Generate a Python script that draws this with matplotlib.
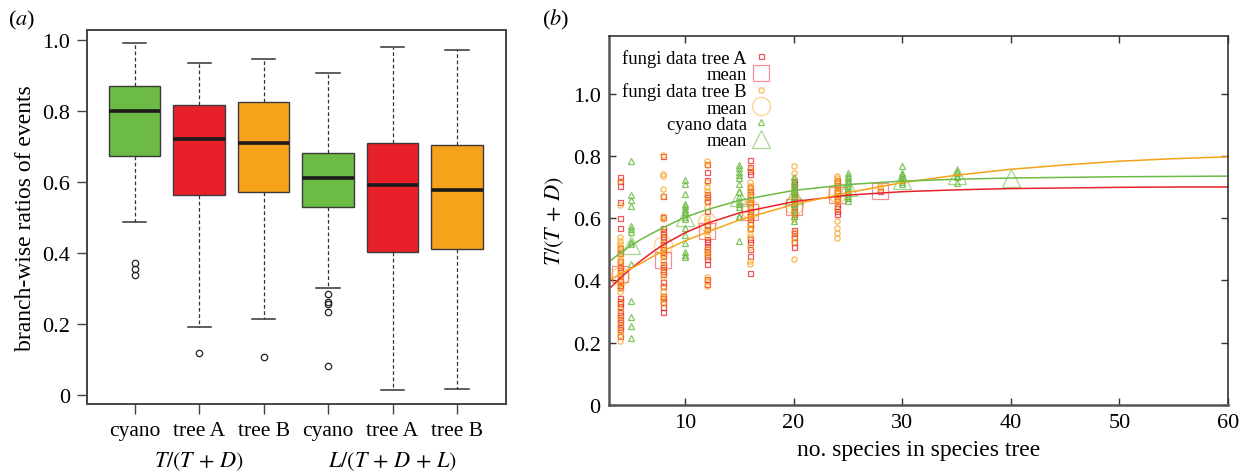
import matplotlib.pyplot as plt

plt.rcParams['font.family'] = ['Liberation Serif', 'DejaVu Serif']
plt.rcParams['mathtext.fontset'] = 'stix'

GREEN = '#6cbb45'
RED = '#e8202a'
ORANGE = '#f7a21b'

# ---- panel (a): box statistics ----
box_labels = ['cyano', 'tree A', 'tree B', 'cyano', 'tree A', 'tree B']
box_whislo = [0.489, 0.193, 0.216, 0.304, 0.016, 0.019]
box_q1 = [0.674, 0.564, 0.572, 0.530, 0.403, 0.413]
box_med = [0.801, 0.721, 0.712, 0.612, 0.594, 0.579]
box_q3 = [0.872, 0.818, 0.827, 0.682, 0.712, 0.705]
box_whishi = [0.991, 0.936, 0.947, 0.909, 0.981, 0.974]
box_fliers = [[0.372, 0.356, 0.340], [0.119], [0.107],
              [0.286, 0.264, 0.258, 0.236, 0.083], [], []]
group_labels = [r'$T/(T\,+\,D)$', r'$L/(T\,+\,D\,+\,L)$']

# ---- panel (b): ratios per species-tree size ----
treeA_sizes = [4, 8, 12, 16, 20, 24, 28]
treeA_ratios = [
    [0.731, 0.720, 0.702, 0.651, 0.599, 0.568, 0.503, 0.488, 0.463, 0.442, 0.434, 0.417, 0.399,
     0.385, 0.378, 0.343, 0.335, 0.327, 0.319, 0.298, 0.290, 0.276, 0.265, 0.249, 0.244, 0.222],
    [0.800, 0.672, 0.603, 0.570, 0.560, 0.549, 0.538, 0.527, 0.517, 0.501, 0.490, 0.479, 0.453,
     0.442, 0.431, 0.421, 0.394, 0.383, 0.351, 0.343, 0.332, 0.314, 0.298],
    [0.774, 0.747, 0.723, 0.677, 0.667, 0.656, 0.624, 0.578, 0.565, 0.533, 0.522, 0.511, 0.501,
     0.490, 0.479, 0.469, 0.453, 0.405, 0.388],
    [0.788, 0.763, 0.752, 0.741, 0.699, 0.688, 0.677, 0.661, 0.651, 0.635, 0.624, 0.613, 0.608,
     0.597, 0.581, 0.570, 0.533, 0.522, 0.501, 0.477, 0.423],
    [0.720, 0.709, 0.699, 0.688, 0.677, 0.667, 0.656, 0.645, 0.635, 0.624, 0.613, 0.562, 0.551,
     0.538, 0.522, 0.506],
    [0.722, 0.715, 0.707, 0.699, 0.690, 0.683, 0.672, 0.661, 0.640, 0.632, 0.624, 0.613],
    [0.686],
]
treeA_mean_sizes = [4, 8, 12, 16, 20, 24, 28]
treeA_means = [0.422, 0.466, 0.560, 0.621, 0.636, 0.675, 0.686]

treeB_sizes = [4, 8, 12, 16, 20, 24, 28]
treeB_ratios = [
    [0.720, 0.642, 0.538, 0.527, 0.517, 0.506, 0.495, 0.485, 0.474, 0.463, 0.453, 0.431, 0.421,
     0.410, 0.399, 0.388, 0.375, 0.362, 0.330, 0.308, 0.287, 0.271, 0.255, 0.239, 0.225, 0.206],
    [0.803, 0.742, 0.734, 0.693, 0.670, 0.608, 0.597, 0.554, 0.522, 0.511, 0.501, 0.485, 0.479,
     0.463, 0.447, 0.426, 0.410, 0.383, 0.362, 0.351, 0.340, 0.327],
    [0.784, 0.770, 0.715, 0.699, 0.688, 0.672, 0.656, 0.635, 0.599, 0.592, 0.576, 0.560, 0.544,
     0.501, 0.490, 0.479, 0.410, 0.399, 0.383],
    [0.758, 0.715, 0.704, 0.693, 0.683, 0.672, 0.661, 0.651, 0.645, 0.635, 0.624, 0.613, 0.603,
     0.581, 0.570, 0.565, 0.549, 0.538, 0.506, 0.463, 0.453],
    [0.766, 0.745, 0.725, 0.704, 0.688, 0.677, 0.661, 0.651, 0.640, 0.629, 0.618, 0.597, 0.554,
     0.538, 0.525, 0.469],
    [0.736, 0.729, 0.720, 0.712, 0.704, 0.697, 0.688, 0.680, 0.672, 0.661, 0.651, 0.629, 0.590,
     0.570, 0.551, 0.536],
    [0.704, 0.697],
]
treeB_mean_sizes = [4, 8, 12, 16, 20, 24]
treeB_means = [0.413, 0.515, 0.589, 0.630, 0.641, 0.680]

cyano_sizes = [5, 10, 15, 20, 25, 30, 35]
cyano_ratios = [
    [0.782, 0.674, 0.659, 0.640, 0.576, 0.565, 0.556, 0.524, 0.517, 0.453, 0.335, 0.282, 0.253, 0.215],
    [0.723, 0.709, 0.677, 0.645, 0.638, 0.629, 0.621, 0.613, 0.603, 0.597, 0.567, 0.546, 0.520,
     0.492, 0.482, 0.474],
    [0.770, 0.760, 0.749, 0.738, 0.728, 0.709, 0.683, 0.667, 0.656, 0.645, 0.635, 0.608, 0.603, 0.527],
    [0.731, 0.720, 0.709, 0.699, 0.688, 0.677, 0.667, 0.656, 0.645, 0.629, 0.608, 0.592],
    [0.744, 0.736, 0.729, 0.720, 0.712, 0.704, 0.697, 0.688, 0.680, 0.672, 0.665, 0.656],
    [0.768, 0.744, 0.736, 0.729, 0.722, 0.715, 0.709],
    [0.750, 0.744, 0.736, 0.731, 0.712],
]
cyano_mean_sizes = [5, 10, 15, 20, 25, 30, 35, 40]
cyano_means = [0.514, 0.603, 0.667, 0.675, 0.701, 0.722, 0.738, 0.729]

# fitted curves, read at these sizes
curve_x = [3, 4, 5, 6, 7, 8, 10, 12, 15, 20, 25, 30, 35, 40, 45, 50, 55, 60]
fit_treeA = [0.372, 0.407, 0.437, 0.465, 0.491, 0.515, 0.553, 0.583, 0.617, 0.653, 0.674,
             0.685, 0.691, 0.695, 0.697, 0.699, 0.700, 0.700]
fit_treeB = [0.400, 0.420, 0.438, 0.456, 0.476, 0.495, 0.527, 0.555, 0.594, 0.644, 0.682,
             0.714, 0.738, 0.757, 0.771, 0.783, 0.791, 0.797]
fit_cyano = [0.460, 0.487, 0.512, 0.533, 0.552, 0.570, 0.603, 0.627, 0.657, 0.689, 0.708,
             0.719, 0.725, 0.729, 0.731, 0.733, 0.734, 0.735]


def flatten(sizes, groups):
    xs, ys = [], []
    for s, vals in zip(sizes, groups):
        xs += [s] * len(vals)
        ys += vals
    return xs, ys


fig = plt.figure(figsize=(12.51, 4.77), dpi=100)

# ---------------- panel (a) ----------------
ax1 = fig.add_axes([87 / 1251, 1 - 405 / 477, 419 / 1251, 374 / 477])
stats = []
for i in range(len(box_labels)):
    stats.append(dict(med=box_med[i], q1=box_q1[i], q3=box_q3[i],
                      whislo=box_whislo[i], whishi=box_whishi[i],
                      fliers=box_fliers[i]))
bp = ax1.bxp(stats, positions=range(1, 7), widths=0.8, capwidths=0.36,
             patch_artist=True, showfliers=True,
             boxprops=dict(edgecolor='#3a3a3a', linewidth=1.0),
             medianprops=dict(color='#1a1a1a', linewidth=2.6),
             whiskerprops=dict(color='#333333', linewidth=0.9, linestyle=(0, (3, 2))),
             capprops=dict(color='#333333', linewidth=1.1),
             flierprops=dict(marker='o', markerfacecolor='none', markeredgecolor='#222222',
                             markersize=4.6, markeredgewidth=0.9))
for patch, c in zip(bp['boxes'], [GREEN, RED, ORANGE, GREEN, RED, ORANGE]):
    patch.set_facecolor(c)

ax1.set_xlim(0.26, 6.76)
ax1.set_ylim(-0.024, 1.029)
ax1.set_xticks(range(1, 7))
ax1.set_xticklabels(box_labels, fontsize=15.5)
ax1.set_yticks([0, 0.2, 0.4, 0.6, 0.8, 1.0])
ax1.set_yticklabels(['0', '0.2', '0.4', '0.6', '0.8', '1.0'], fontsize=16)
ax1.tick_params(direction='out', length=7, width=1.0, color='#444444', pad=5)
for sp in ax1.spines.values():
    sp.set_color('#444444')
    sp.set_linewidth(1.4)
ax1.set_ylabel('branch-wise ratios of events', fontsize=17, labelpad=5)
ax1.text(2, -0.152, group_labels[0], transform=ax1.get_xaxis_transform(),
         ha='center', va='center', fontsize=16)
ax1.text(5, -0.152, group_labels[1], transform=ax1.get_xaxis_transform(),
         ha='center', va='center', fontsize=16)
fig.text(22 / 1251, 1 - 20 / 477, '(' + r'$a$' + ')', ha='center', va='center', fontsize=16)

# ---------------- panel (b) ----------------
ax2 = fig.add_axes([609 / 1251, 1 - 406 / 477, 619 / 1251, 369 / 477])
ax_x, ax_y = flatten(treeA_sizes, treeA_ratios)
bx_x, bx_y = flatten(treeB_sizes, treeB_ratios)
cx_x, cx_y = flatten(cyano_sizes, cyano_ratios)

ax2.plot(ax_x, ax_y, linestyle='none', marker='s', ms=3.6, mew=0.9, mfc='none',
         mec=RED, alpha=0.75, label='fungi data tree A')
ax2.plot(treeA_mean_sizes, treeA_means, linestyle='none', marker='s', ms=12, mew=0.9,
         mfc='none', mec=RED, alpha=0.5, label='mean')
ax2.plot(bx_x, bx_y, linestyle='none', marker='o', ms=3.8, mew=0.9, mfc='none',
         mec=ORANGE, alpha=0.75, label='fungi data tree B')
ax2.plot(treeB_mean_sizes, treeB_means, linestyle='none', marker='o', ms=13, mew=0.9,
         mfc='none', mec=ORANGE, alpha=0.5, label='mean')
ax2.plot(cx_x, cx_y, linestyle='none', marker='^', ms=3.8, mew=0.9, mfc='none',
         mec=GREEN, alpha=0.85, label='cyano data')
ax2.plot(cyano_mean_sizes, cyano_means, linestyle='none', marker='^', ms=13, mew=0.9,
         mfc='none', mec=GREEN, alpha=0.6, label='mean')

ax2.plot(curve_x, fit_treeA, color=RED, lw=1.1)
ax2.plot(curve_x, fit_treeB, color=ORANGE, lw=1.1)
ax2.plot(curve_x, fit_cyano, color=GREEN, lw=1.1)

ax2.set_xlim(3, 60)
ax2.set_ylim(0, 1.185)
ax2.set_xticks([10, 20, 30, 40, 50, 60])
ax2.set_xticklabels(['10', '20', '30', '40', '50', '60'], fontsize=16)
ax2.set_yticks([0, 0.2, 0.4, 0.6, 0.8, 1.0])
ax2.set_yticklabels(['0', '0.2', '0.4', '0.6', '0.8', '1.0'], fontsize=16)
ax2.tick_params(direction='in', length=5, width=1.0, color='#333333', pad=6,
                top=True, right=True)
for sp in ax2.spines.values():
    sp.set_color('#333333')
    sp.set_linewidth(1.2)
ax2.spines['left'].set_linewidth(1.8)
ax2.spines['bottom'].set_linewidth(1.8)
ax2.spines['left'].set_color('#555555')
ax2.spines['bottom'].set_color('#555555')
ax2.set_xlabel('no. species in species tree', fontsize=17, labelpad=5)
ax2.set_ylabel(r'$T/(T\,+\,D)$', fontsize=16, labelpad=5)

ax2.legend(loc='upper left', frameon=False, markerfirst=False, fontsize=13.4,
           handlelength=0.9, handletextpad=0.3, labelspacing=-0.04, borderpad=0,
           borderaxespad=0.7, numpoints=1)
fig.text(556 / 1251, 1 - 20 / 477, '(' + r'$b$' + ')', ha='center', va='center', fontsize=16)

fig.savefig('out.png', dpi=100)
